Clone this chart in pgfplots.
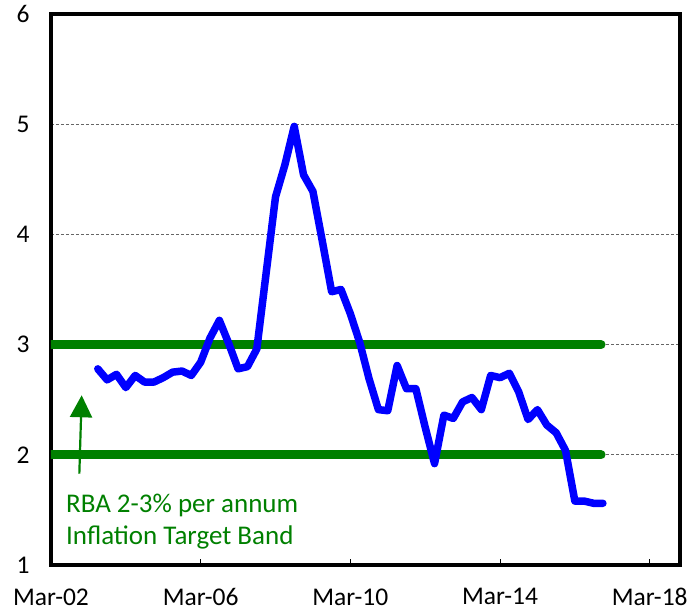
\documentclass[border=0pt]{standalone}
\usepackage{pgfplots}
\pgfplotsset{compat=1.18}
\usetikzlibrary{arrows.meta}
\usepackage{fontspec}
\setmainfont{Carlito}
\definecolor{bandgreen}{RGB}{0,128,0}
\definecolor{cpiblue}{RGB}{0,0,255}
\pgfplotstableread{
q v
5 2.78
6 2.68
7 2.73
8 2.61
9 2.72
10 2.66
11 2.66
12 2.70
13 2.75
14 2.76
15 2.72
16 2.84
17 3.06
18 3.22
19 3.01
20 2.78
21 2.80
22 2.96
23 3.65
24 4.34
25 4.63
26 4.98
27 4.54
28 4.39
29 3.94
30 3.48
31 3.50
32 3.28
33 3.02
34 2.69
35 2.41
36 2.40
37 2.81
38 2.60
39 2.60
40 2.25
41 1.92
42 2.36
43 2.33
44 2.48
45 2.52
46 2.41
47 2.72
48 2.70
49 2.74
50 2.57
51 2.32
52 2.41
53 2.27
54 2.20
55 2.04
56 1.58
57 1.58
58 1.56
59 1.56
}\cpidata
\begin{document}
\begin{tikzpicture}[font=\fontsize{25.5bp}{30bp}\selectfont]
\useasboundingbox (-51bp,-47bp) rectangle (643bp,565bp);
\begin{axis}[
  at={(0,0)}, anchor=south west,
  scale only axis, width=629bp, height=551bp,
  xmin=0, xmax=67.24, ymin=1, ymax=6,
  xtick={0,16,32,48,64},
  xticklabels={Mar-02,Mar-06,Mar-10,Mar-14,Mar-18},
  ytick={1,2,3,4,5,6},
  xtick pos=bottom, ytick pos=left,
  tick align=inside,
  major tick length=6bp,
  xtick style={line width=0.8bp, black},
  ytick style={draw=none},
  axis line style={line width=3.5bp, black},
  ymajorgrids,
  major grid style={gray!80!black, line width=0.8bp, dash pattern=on 3bp off 2bp},
  /pgf/number format/assume math mode=true,
  yticklabel style={anchor=east, xshift=-18bp},
  xticklabel style={anchor=north, yshift=-20bp},
  clip=true,
]
\addplot[bandgreen, line width=9bp, line cap=round] coordinates {(-2,3) (58.8,3)};
\addplot[bandgreen, line width=9bp, line cap=round] coordinates {(-2,2) (58.8,2)};
\addplot[cpiblue, line width=7.5bp, line join=round, line cap=round] table[x=q, y=v] {\cpidata};
\draw[bandgreen, line width=2.2bp, -{Triangle[width=22bp,length=22bp]}] (axis cs:3.03,1.83) -- (axis cs:3.28,2.54);
\node[bandgreen, anchor=base west, inner sep=0pt, font=\fontsize{27bp}{32bp}\selectfont] at (axis cs:1.6,1.48) {RBA 2-3\% per annum};
\node[bandgreen, anchor=base west, inner sep=0pt, font=\fontsize{27bp}{32bp}\selectfont] at (axis cs:1.6,1.19) {Inflation Target Band};
\end{axis}
\end{tikzpicture}
\end{document}
